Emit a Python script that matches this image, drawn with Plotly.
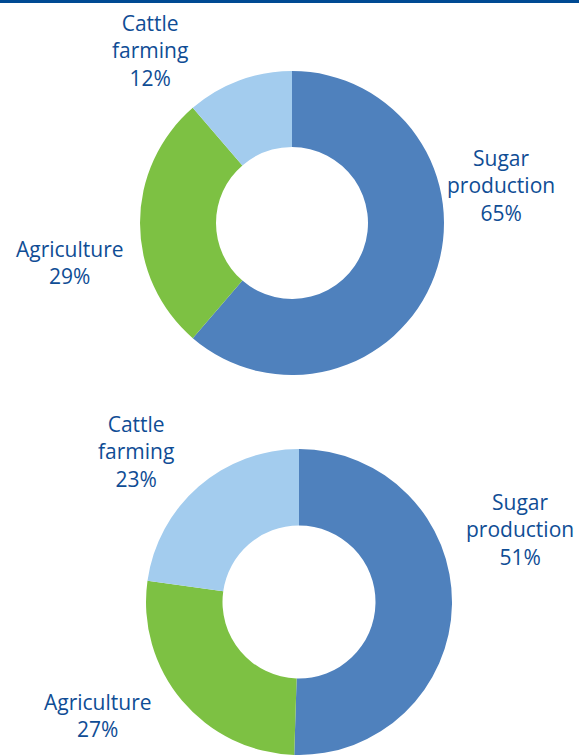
import plotly.graph_objects as go

W, H = 579, 755

categories = ["Sugar production", "Agriculture", "Cattle farming"]
values_top = [65, 29, 12]
values_bottom = [51, 27, 23]
label_lines = {"Sugar production": "Sugar<br>production",
               "Agriculture": "Agriculture",
               "Cattle farming": "Cattle<br>farming"}

colors = ["#4F81BD", "#7DC143", "#A3CCEE"]
text_color = "#0F4D95"
font_family = "Open Sans"

fig = go.Figure()


def px_domain(cx, cy, r):
    return dict(x=[(cx - r) / W, (cx + r) / W],
                y=[max(0, 1 - (cy + r) / H), min(1, 1 - (cy - r) / H)])


fig.add_trace(go.Pie(
    labels=categories, values=values_top, hole=0.5, sort=False,
    direction="clockwise", rotation=0, textinfo="none", hoverinfo="label+value",
    marker=dict(colors=colors, line=dict(width=0)),
    domain=px_domain(292, 223, 152), showlegend=False))

fig.add_trace(go.Pie(
    labels=categories, values=values_bottom, hole=0.5, sort=False,
    direction="clockwise", rotation=0, textinfo="none", hoverinfo="label+value",
    marker=dict(colors=colors, line=dict(width=0)),
    domain=px_domain(299, 602, 153), showlegend=False))

# label anchor positions (pixel centers)
pos_top = {"Sugar production": (501, 186), "Agriculture": (70, 262), "Cattle farming": (150, 50)}
pos_bottom = {"Sugar production": (520, 529), "Agriculture": (98, 715), "Cattle farming": (136, 451)}

for vals, pos in ((values_top, pos_top), (values_bottom, pos_bottom)):
    for cat, v in zip(categories, vals):
        x, y = pos[cat]
        fig.add_annotation(
            x=x / W, y=1 - y / H, xref="paper", yref="paper",
            text=f"{label_lines[cat]}<br>{v}%", showarrow=False,
            xanchor="center", yanchor="middle", align="center",
            font=dict(size=21, color=text_color, family=font_family))

fig.add_shape(type="rect", xref="paper", yref="paper", x0=0, x1=1,
              y0=1 - 3 / H, y1=1, fillcolor="#004A93", line=dict(width=0))

fig.update_layout(width=W, height=H, margin=dict(l=0, r=0, t=0, b=0),
                  paper_bgcolor="white", plot_bgcolor="white")

fig.write_html("out.html", config={"displayModeBar": False},
               post_script="document.body.style.margin='0';document.body.style.overflow='hidden';")
